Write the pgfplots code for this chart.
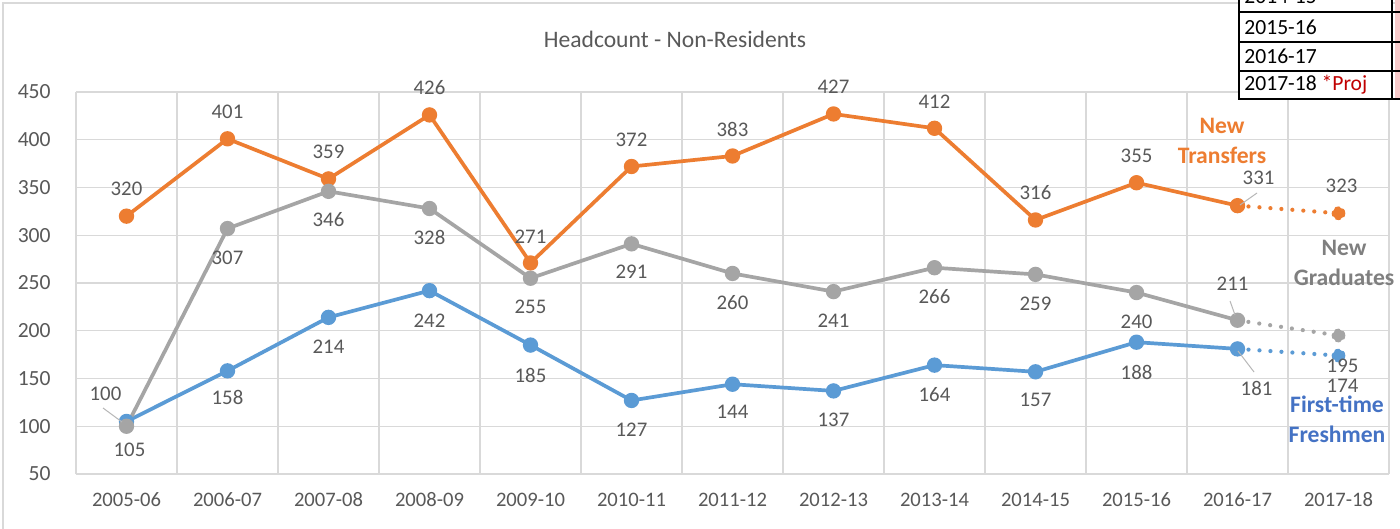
\documentclass[border=0pt]{standalone}
\usepackage{fontspec}
\setmainfont{Carlito}
\usepackage{pgfplots}
\usepackage{pgfplotstable}
\pgfplotsset{compat=1.18}
\definecolor{corange}{HTML}{ED7D31}
\definecolor{cgray}{HTML}{A5A5A5}
\definecolor{cblue}{HTML}{5B9BD5}
\definecolor{ctext}{HTML}{595959}
\definecolor{cgrid}{HTML}{D9D9D9}
\definecolor{cbluelab}{HTML}{4472C4}
\definecolor{cgraylab}{HTML}{7F7F7F}
\definecolor{cred}{HTML}{C00000}
\definecolor{cpink}{HTML}{F8CBCB}

\pgfplotstableread{
x y lab dx dy
0 105 100 -10.5 14
1 158 158 0 -13.5
2 214 214 0 -14.5
3 242 242 0 -15
4 185 185 0 -15
5 127 127 0 -14.5
6 144 144 0 -14
7 137 137 0 -14.5
8 164 164 0 -14.5
9 157 157 0 -14
10 188 188 0 -15
11 181 181 9.5 -20
}\freshmen
\pgfplotstableread{
x y lab dx dy
11 181 {} 0 0
12 174 174 2 -15
}\freshmenproj

\pgfplotstableread{
x y lab dx dy
0 320 320 0 13.5
1 401 401 0 13.5
2 359 359 0 13.5
3 426 426 0 13.5
4 271 271 0 13
5 372 372 0 13.5
6 383 383 0 13.5
7 427 427 0 13.5
8 412 412 0 13.5
9 316 316 0 13.5
10 355 355 0 13.5
11 331 331 10.5 14
}\transfers
\pgfplotstableread{
x y lab dx dy
11 331 {} 0 0
12 323 323 1.5 13.5
}\transfersproj

\pgfplotstableread{
x y lab dx dy
0 100 105 1.5 -12
1 307 307 0 -14.5
2 346 346 0 -14
3 328 328 0 -14.5
4 255 255 0 -14.5
5 291 291 0 -14
6 260 260 0 -14.5
7 241 241 0 -14.5
8 266 266 0 -14.5
9 259 259 0 -14.5
10 240 240 0 -14.5
11 211 211 -2.5 18
}\graduates
\pgfplotstableread{
x y lab dx dy
11 211 {} 0 0
12 195 195 2 -15
}\graduatesproj

\begin{document}
\begin{tikzpicture}
\useasboundingbox (-38pt,-27.5pt) rectangle (662pt,237pt);
\clip (-38pt,-27.5pt) rectangle (662pt,237pt);
\fill[white] (-38pt,-27.5pt) rectangle (662pt,237pt);
\draw[cgrid, line width=0.75pt] (-36.5pt,-40pt) -- (-36.5pt,235.5pt) -- (700pt,235.5pt);
\begin{axis}[
  at={(0,0)}, anchor=south west,
  scale only axis, width=656.5pt, height=191pt,
  xmin=-0.5, xmax=12.5, ymin=50, ymax=450,
  xtick={0,...,12},
  xticklabels={2005-06,2006-07,2007-08,2008-09,2009-10,2010-11,2011-12,2012-13,2013-14,2014-15,2015-16,2016-17,2017-18},
  minor xtick={-0.5,0.5,...,12.5},
  ytick={50,100,...,450},
  ymajorgrids, xminorgrids,
  grid style={draw=cgrid, line width=0.7pt},
  minor grid style={draw=cgrid, line width=0.7pt},
  axis line style={draw=none},
  major tick length=0pt, minor tick length=0pt,
  xticklabel style={font=\fontsize{10.3}{12}\selectfont, text=ctext, anchor=center, inner sep=0pt, yshift=-13pt},
  yticklabel style={font=\fontsize{10.8}{12}\selectfont, text=ctext, anchor=east, inner sep=0pt, xshift=-12.5pt},
  /pgf/number format/assume math mode=true,
  clip=false,
  point meta=explicit symbolic,
  nodes near coords,
  visualization depends on={\thisrow{dx} \as \mydx},
  visualization depends on={\thisrow{dy} \as \mydy},
  every node near coord/.append style={font=\fontsize{10.4}{12}\selectfont, text=ctext, anchor=center, inner sep=0pt, xshift=\mydx pt, yshift=\mydy pt},
]
% First-time Freshmen
\addplot[cblue, line width=1.85pt, mark=*, mark size=2.9pt, mark options={solid}] table[x=x, y=y, meta=lab] {\freshmen};
\addplot[cblue, line width=2.1pt, dash pattern=on 0pt off 5.5pt, line cap=round, mark=*, mark size=2.9pt, mark indices={2}, mark options={dotted, line width=1pt}] table[x=x, y=y, meta=lab] {\freshmenproj};
% New Transfers
\addplot[corange, line width=1.85pt, mark=*, mark size=2.9pt, mark options={solid}] table[x=x, y=y, meta=lab] {\transfers};
\addplot[corange, line width=2.1pt, dash pattern=on 0pt off 5.5pt, line cap=round, mark=*, mark size=2.9pt, mark indices={2}, mark options={dotted, line width=1pt}] table[x=x, y=y, meta=lab] {\transfersproj};
% New Graduates
\addplot[cgray, line width=1.85pt, mark=*, mark size=2.9pt, mark options={solid}] table[x=x, y=y, meta=lab] {\graduates};
\addplot[cgray, line width=2.1pt, dash pattern=on 0pt off 5.5pt, line cap=round, mark=*, mark size=2.9pt, mark indices={2}, mark options={dotted, line width=1pt}] table[x=x, y=y, meta=lab] {\graduatesproj};
\end{axis}
% leader lines
\draw[cgray!80, line width=0.5pt] (13.5pt,33pt) -- (23pt,26pt);
\draw[cgray!80, line width=0.5pt] (590.5pt,140.5pt) -- (582pt,134.5pt);
\draw[cgray!80, line width=0.5pt] (577pt,86.5pt) -- (579.5pt,79.5pt);
\draw[cgray!80, line width=0.5pt] (581pt,61.5pt) -- (589pt,51pt);
% title
\node[text=ctext, font=\fontsize{11.8}{14}\selectfont] at (299.5pt,217.5pt) {Headcount - Non-Residents};
% series names
\node[text=corange, font=\bfseries\fontsize{11.8}{15}\selectfont, align=center] at (573pt,166.5pt) {New\\Transfers};
\node[text=cgraylab, font=\bfseries\fontsize{11.8}{15}\selectfont, align=center] at (634pt,105.5pt) {New\\Graduates};
\node[text=cbluelab, font=\bfseries\fontsize{11.8}{15}\selectfont, align=center] at (630.5pt,27.5pt) {First-time\\Freshmen};
% table fragment
\fill[white] (581.5pt,187.5pt) rectangle (658pt,250pt);
\fill[cpink] (659.5pt,187.5pt) rectangle (662pt,250pt);
\draw[line width=1pt] (581.5pt,250pt) -- (581.5pt,187.5pt) -- (665pt,187.5pt);
\draw[line width=1pt] (658pt,250pt) -- (658pt,187.5pt);
\draw[line width=1pt] (581.5pt,231pt) -- (665pt,231pt);
\draw[line width=1pt] (581.5pt,216pt) -- (665pt,216pt);
\draw[line width=1pt] (581.5pt,201.5pt) -- (665pt,201.5pt);
\begin{scope}[every node/.style={anchor=west, inner sep=0pt, font=\fontsize{10.8}{12}\selectfont}]
\node at (584pt,238.5pt) {2014-15};
\node at (584pt,223.5pt) {2015-16};
\node at (584pt,208.75pt) {2016-17};
\node at (584pt,194.5pt) {2017-18 \textcolor{cred}{*Proj}};
\end{scope}
\end{tikzpicture}
\end{document}
